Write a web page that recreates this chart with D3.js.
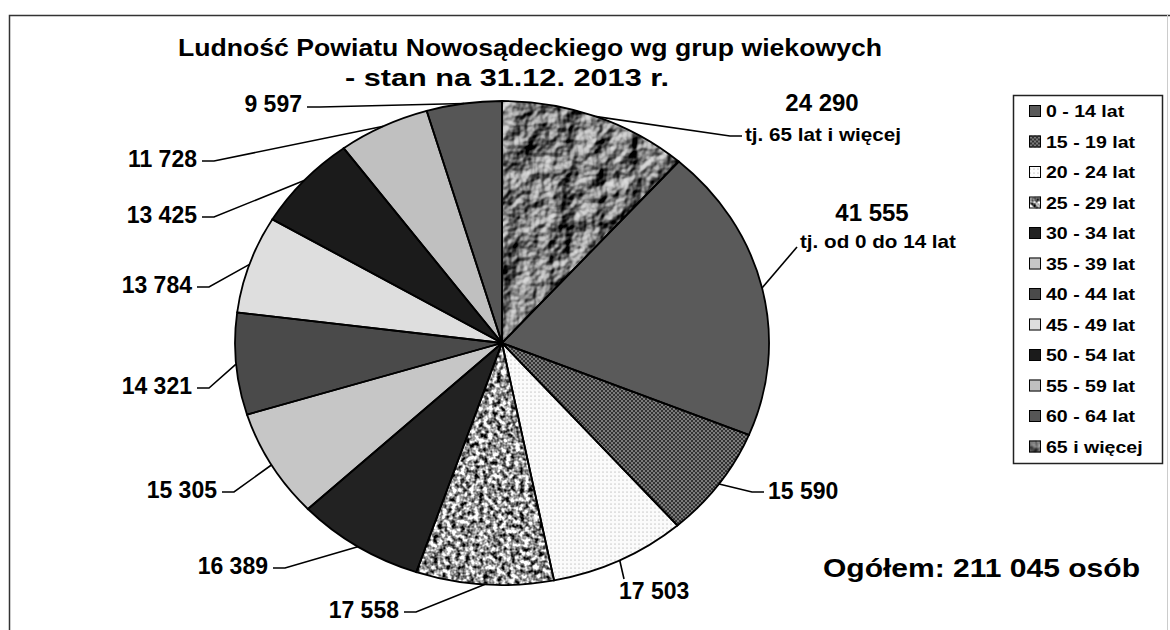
<!DOCTYPE html>
<html>
<head>
<meta charset="utf-8">
<script src="https://cdn.jsdelivr.net/npm/d3@7/dist/d3.min.js"></script>
<style>
  html, body { margin: 0; padding: 0; background: #fff; }
  svg { display: block; font-family: "Liberation Sans", Arial, sans-serif; font-weight: bold; }
</style>
</head>
<body>
<svg id="chart" width="1170" height="630"></svg>
<script>
// data, in legend order
const groups = ["0 - 14 lat", "15 - 19 lat", "20 - 24 lat", "25 - 29 lat", "30 - 34 lat", "35 - 39 lat",
  "40 - 44 lat", "45 - 49 lat", "50 - 54 lat", "55 - 59 lat", "60 - 64 lat", "65 i więcej"];
const population = [41555, 15590, 17503, 17558, 16389, 15305, 14321, 13784, 13425, 11728, 9597, 24290];
const notes = ["tj. od 0 do 14 lat", "", "", "", "", "", "", "", "", "", "", "tj. 65 lat i więcej"];
const titleLines = ["Ludność Powiatu Nowosądeckiego wg grup wiekowych", "- stan na 31.12. 2013 r."];
// pie starts at 12 o'clock with the oldest group, then goes clockwise from the youngest
const pieOrder = [11, 0, 1, 2, 3, 4, 5, 6, 7, 8, 9, 10];

// fills per group (styles); "hatch"/"dots" are patterns, textures come from filters
const fills = ["#5a5a5a", "hatch", "dots", "#9c9c9c", "#222", "#c6c6c6",
  "#4a4a4a", "#dedede", "#1b1b1b", "#c0c0c0", "#565656", "#808080"];
const filters = [null, null, null, "url(#granite)", null, null, null, null, null, null, null, "url(#crumple)"];

// label layout: text position, anchor, size, leader bend points (leader starts on the slice edge)
const labelLayout = [
  { x: 872, y: 221, anchor: "middle", size: 24, nx: 800, ny: 248, lead: [[797, 247]] },
  { x: 768, y: 499, anchor: "start", size: 23, lead: [[752, 492], [764, 492]] },
  { x: 619, y: 599, anchor: "start", size: 23, lead: [[624, 579]] },
  { x: 399, y: 618, anchor: "end", size: 23, lead: [[416, 612], [404, 612]] },
  { x: 268, y: 574, anchor: "end", size: 23, lead: [[285, 568], [273, 568]] },
  { x: 217, y: 498, anchor: "end", size: 23, lead: [[234, 492], [222, 492]] },
  { x: 192, y: 394, anchor: "end", size: 23, lead: [[209, 388], [197, 388]] },
  { x: 192, y: 293, anchor: "end", size: 23, lead: [[209, 287], [197, 287]] },
  { x: 197, y: 223, anchor: "end", size: 23, lead: [[214, 217], [202, 217]] },
  { x: 197, y: 167, anchor: "end", size: 23, lead: [[214, 161], [202, 161]] },
  { x: 302, y: 112, anchor: "end", size: 23, lead: [[320, 107], [307, 107]] },
  { x: 822, y: 111, anchor: "middle", size: 24, nx: 745, ny: 141, lead: [[730, 136], [742, 136]] }
];

const W = 1170, H = 630;
const cx = 502, cy = 343, rx = 267, ry = 242;

const fmt = d3.formatLocale({ decimal: ",", thousands: " ", grouping: [3], currency: ["", ""] }).format(",d");

const svg = d3.select("#chart");

// patterns and textures
const defs = svg.append("defs");

// each pattern twice: plain for the legend, and counter-scaled for the stretched pie paths
function makePatterns(suffix, tf) {
  const hatch = defs.append("pattern").attr("id", "hatch" + suffix).attr("patternUnits", "userSpaceOnUse")
    .attr("width", 4).attr("height", 4).attr("patternTransform", tf);
  hatch.append("rect").attr("width", 4).attr("height", 4).attr("fill", "#7a7a7a");
  hatch.append("path").attr("d", "M0,0 L4,4 M4,0 L0,4").attr("stroke", "#2a2a2a").attr("stroke-width", 0.9);

  const dots = defs.append("pattern").attr("id", "dots" + suffix).attr("patternUnits", "userSpaceOnUse")
    .attr("width", 4).attr("height", 4).attr("patternTransform", tf);
  dots.append("rect").attr("width", 4).attr("height", 4).attr("fill", "#fbfbfb");
  dots.append("circle").attr("cx", 1).attr("cy", 1).attr("r", 0.55).attr("fill", "#909090");
}
makePatterns("", null);
makePatterns("Pie", `scale(${1 / rx},${1 / ry})`);
const fillFor = (i, suffix) => fills[i].startsWith("#") ? fills[i] : `url(#${fills[i]}${suffix})`;

const crumple = defs.append("filter").attr("id", "crumple").attr("color-interpolation-filters", "sRGB");
crumple.append("feTurbulence").attr("type", "fractalNoise").attr("baseFrequency", 0.03)
  .attr("numOctaves", 4).attr("seed", 7).attr("result", "noise");
crumple.append("feDiffuseLighting").attr("in", "noise").attr("surfaceScale", 10)
  .attr("diffuseConstant", 1).attr("lighting-color", "#e2e2e2").attr("result", "lit")
  .append("feDistantLight").attr("azimuth", 225).attr("elevation", 34);
crumple.append("feComposite").attr("in", "lit").attr("in2", "SourceGraphic").attr("operator", "in");

const granite = defs.append("filter").attr("id", "granite").attr("color-interpolation-filters", "sRGB");
granite.append("feTurbulence").attr("type", "fractalNoise").attr("baseFrequency", 0.22)
  .attr("numOctaves", 2).attr("seed", 3).attr("result", "noise");
granite.append("feColorMatrix").attr("in", "noise").attr("type", "matrix")
  .attr("values", "2.4 0 0 0 -0.6  2.4 0 0 0 -0.6  2.4 0 0 0 -0.6  0 0 0 0 1").attr("result", "gray");
granite.append("feComposite").attr("in", "gray").attr("in2", "SourceGraphic").attr("operator", "in");

// frame
svg.append("path").attr("d", `M9.5,${H} V15.5 H${W}`).attr("fill", "none").attr("stroke", "#333").attr("stroke-width", 1.5);
svg.append("line").attr("x1", 1167.5).attr("x2", 1167.5).attr("y1", 15).attr("y2", H)
  .attr("stroke", "#ccc").attr("stroke-width", 1);

// title
svg.append("g").selectAll("text").data(titleLines).join("text")
  .attr("x", (d, i) => i === 0 ? 530 : 507)
  .attr("y", (d, i) => 56 + i * 30)
  .attr("text-anchor", "middle")
  .attr("font-size", 24)
  .attr("textLength", (d, i) => i === 0 ? 704 : 324)
  .attr("lengthAdjust", "spacingAndGlyphs")
  .text(d => d);

// pie
const rows = pieOrder.map(i => ({ i, v: population[i] }));
const arcs = d3.pie().sort(null).value(d => d.v)(rows);
const arc = d3.arc().innerRadius(0).outerRadius(1);

const gPie = svg.append("g").attr("transform", `translate(${cx},${cy})`);

gPie.selectAll("g.slice").data(arcs).join("g")
  .attr("class", "slice")
  .attr("filter", d => filters[d.data.i])
  .append("path")
  .attr("transform", `scale(${rx},${ry})`)
  .attr("d", arc)
  .attr("fill", d => fillFor(d.data.i, "Pie"));

gPie.selectAll("path.edge").data(arcs).join("path")
  .attr("class", "edge")
  .attr("transform", `scale(${rx},${ry})`)
  .attr("d", arc)
  .attr("fill", "none")
  .attr("stroke", "#000")
  .attr("stroke-width", 1.8)
  .attr("vector-effect", "non-scaling-stroke");

// leaders and value labels
const edgePoint = d => {
  const a = (d.startAngle + d.endAngle) / 2;
  return [cx + rx * Math.sin(a), cy - ry * Math.cos(a)];
};

const gLab = svg.append("g");
arcs.forEach(d => {
  const L = labelLayout[d.data.i];
  gLab.append("path")
    .attr("d", d3.line()([edgePoint(d), ...L.lead]))
    .attr("fill", "none").attr("stroke", "#000").attr("stroke-width", 1.6);
  gLab.append("text")
    .attr("x", L.x).attr("y", L.y)
    .attr("text-anchor", L.anchor)
    .attr("font-size", L.size)
    .text(fmt(d.data.v));
  if (notes[d.data.i]) {
    gLab.append("text")
      .attr("transform", `translate(${L.nx},${L.ny}) scale(1.18,1)`)
      .attr("font-size", 17.5)
      .text(notes[d.data.i]);
  }
});

// total
svg.append("text")
  .attr("x", 823).attr("y", 577)
  .attr("font-size", 25)
  .attr("textLength", 317)
  .attr("lengthAdjust", "spacingAndGlyphs")
  .text(`Ogółem: ${fmt(d3.sum(population))} osób`);

// legend
const lg = svg.append("g");
lg.append("rect").attr("x", 1013.5).attr("y", 95.5).attr("width", 149).attr("height", 368)
  .attr("fill", "#fff").attr("stroke", "#222").attr("stroke-width", 1.5);

const item = lg.selectAll("g.item").data(groups).join("g")
  .attr("class", "item")
  .attr("transform", (d, i) => `translate(1029,${111 + i * 30.5})`);
item.append("g").attr("filter", (d, i) => filters[i])
  .append("rect").attr("x", 0).attr("y", -6).attr("width", 12).attr("height", 12)
  .attr("fill", (d, i) => fillFor(i, ""));
item.append("rect").attr("x", 0.5).attr("y", -5.5).attr("width", 11).attr("height", 11)
  .attr("fill", "none").attr("stroke", "#000").attr("stroke-width", 1);
item.append("text")
  .attr("transform", `translate(17,6) scale(1.15,1)`)
  .attr("font-size", 17)
  .text(d => d);
</script>
</body>
</html>
